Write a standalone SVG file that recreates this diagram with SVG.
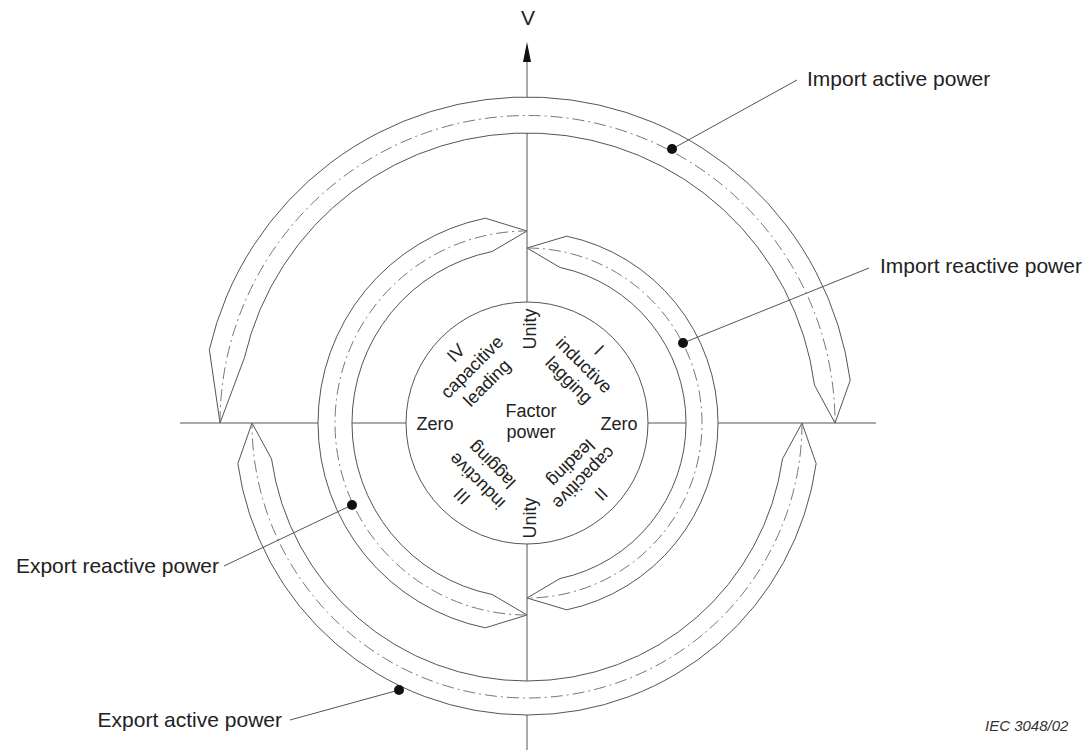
<svg xmlns="http://www.w3.org/2000/svg" width="1091" height="752" viewBox="0 0 1091 752">
<style>
.ln{stroke:#555;stroke-width:1;fill:none}
.band{fill:#fff;stroke:#555;stroke-width:1}
.cl{fill:none;stroke:#777;stroke-width:1;stroke-dasharray:12 4 2 4}
.t{font-family:"Liberation Sans",Arial,sans-serif;font-size:18px;fill:#222}
.c{text-anchor:middle;dominant-baseline:central}
.lbl{font-family:"Liberation Sans",Arial,sans-serif;font-size:21px;fill:#222}
.dot{fill:#111}
</style>
<g id="axes">
<line class="ln" x1="527" y1="60" x2="527" y2="750"/>
<line class="ln" x1="180" y1="423" x2="876" y2="423"/>
<polygon points="527,42 523,62 531,62" fill="#111"/>
<text class="lbl" x="528" y="25" text-anchor="middle" font-size="20">V</text>
</g>
<g id="import-active-band">
<path class="band" d="M220,423 L209.35,349.67 A326,326 0 0 1 850.21,380.45 L835,423 L814.52,385.15 A290,290 0 0 0 244.43,357.76 Z"/>
<path class="cl" d="M220,423 A307.5,307.5 0 0 1 835,423"/>
</g>
<g id="export-active-band">
<path class="band" d="M802,423 L816.16,463.64 A292,292 0 0 1 237.84,463.64 L252,423 L271.51,458.91 A258,258 0 0 0 782.49,458.91 Z"/>
<path class="cl" d="M802,423 A275,275 0 0 1 252,423"/>
</g>
<g id="import-reactive-band">
<path class="band" d="M527,248 L566.71,236.17 A191,191 0 0 1 566.71,609.83 L527,598 L560.06,578.53 A159,159 0 0 0 560.06,267.47 Z"/>
<path class="cl" d="M527,248 A175,175 0 0 1 527,598"/>
</g>
<g id="export-reactive-band">
<path class="band" d="M527,615 L485.33,627.80 A209,209 0 0 1 485.33,218.20 L527,231 L492.11,251.51 A175,175 0 0 0 492.11,594.49 Z"/>
<path class="cl" d="M527,615 A192,192 0 0 1 527,231"/>
</g>
<g id="power-factor-circle">
<circle cx="527" cy="423" r="121" fill="#fff" stroke="#555" stroke-width="1"/>
<text class="t" x="531" y="417" text-anchor="middle">Factor</text>
<text class="t" x="531" y="438" text-anchor="middle">power</text>
<text class="t" x="435" y="430" text-anchor="middle">Zero</text>
<text class="t" x="619" y="430" text-anchor="middle">Zero</text>
<text class="t c" transform="translate(530,329) rotate(-90)">Unity</text>
<text class="t c" transform="translate(530,518) rotate(-90)">Unity</text>
<text class="t c" transform="translate(599,350) rotate(45)">I</text>
<text class="t c" transform="translate(584,365) rotate(45)">inductive</text>
<text class="t c" transform="translate(569,380) rotate(45)">lagging</text>
<text class="t c" transform="translate(456,353) rotate(-45)">IV</text>
<text class="t c" transform="translate(472,367) rotate(-45)">capacitive</text>
<text class="t c" transform="translate(487,383) rotate(-45)">leading</text>
<text class="t c" transform="translate(571,463) rotate(135)">leading</text>
<text class="t c" transform="translate(584,478) rotate(135)">capacitive</text>
<text class="t c" transform="translate(601,494) rotate(135)">II</text>
<text class="t c" transform="translate(492,465) rotate(225)">lagging</text>
<text class="t c" transform="translate(477,481) rotate(225)">inductive</text>
<text class="t c" transform="translate(462,496) rotate(225)">III</text>
</g>
<g id="connectors">
<line class="ln" x1="672" y1="149" x2="797" y2="80"/>
<line class="ln" x1="683" y1="343" x2="869" y2="268"/>
<line class="ln" x1="352" y1="505" x2="224" y2="566"/>
<line class="ln" x1="399" y1="690" x2="290" y2="720"/>
</g>
<g id="label-import-active">
<circle class="dot" cx="672" cy="149" r="5"/>
<text class="lbl" x="807" y="86">Import active power</text>
</g>
<g id="label-import-reactive">
<circle class="dot" cx="683" cy="343" r="5"/>
<text class="lbl" x="880" y="273">Import reactive power</text>
</g>
<g id="label-export-reactive">
<circle class="dot" cx="352" cy="505" r="5"/>
<text class="lbl" x="219" y="573" text-anchor="end">Export reactive power</text>
</g>
<g id="label-export-active">
<circle class="dot" cx="399" cy="690" r="5"/>
<text class="lbl" x="282" y="727" text-anchor="end">Export active power</text>
</g>
<g id="caption">
<text x="985" y="731" font-family="'Liberation Sans',Arial,sans-serif" font-size="15" font-style="italic" fill="#333">IEC 3048/02</text>
</g>
</svg>
